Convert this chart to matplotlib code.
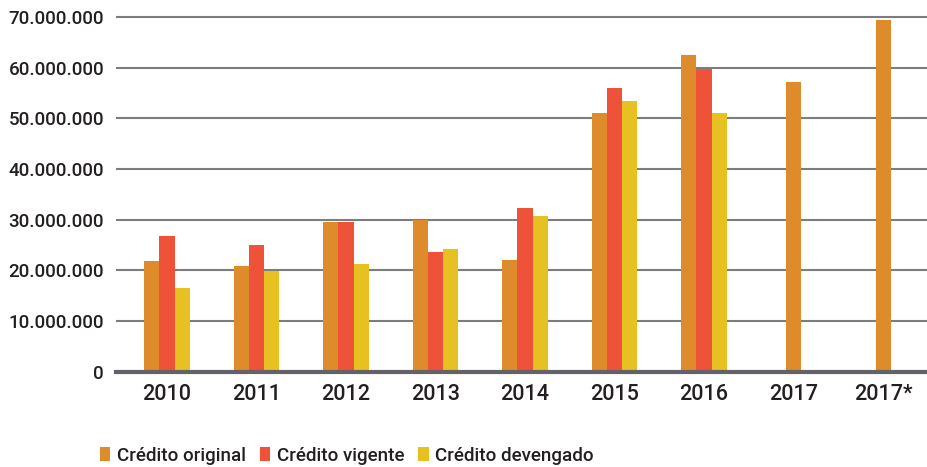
import numpy as np
import matplotlib
matplotlib.use("Agg")
import matplotlib.pyplot as plt
from matplotlib.ticker import FuncFormatter

# data
years = ["2010", "2011", "2012", "2013", "2014", "2015", "2016", "2017", "2017*"]
credito_original = [21.9e6, 20.9e6, 29.6e6, 30.0e6, 22.0e6, 51.0e6, 62.5e6, 57.1e6, 69.4e6]
credito_vigente = [26.8e6, 24.9e6, 29.6e6, 23.7e6, 32.3e6, 55.9e6, 59.7e6, np.nan, np.nan]
credito_devengado = [16.6e6, 19.9e6, 21.3e6, 24.3e6, 30.8e6, 53.4e6, 51.0e6, np.nan, np.nan]
yticks = np.arange(0, 70e6 + 1, 10e6)

c_orig = "#DD8B2B"
c_vig = "#EE533A"
c_dev = "#E7C022"
txt = "#231F20"

plt.rcParams["font.family"] = ["Roboto", "DejaVu Sans"]

fig = plt.figure(figsize=(9.27, 4.67), dpi=100)
ax = fig.add_axes([0.125, 0.204, 0.875, 0.7817])

x = np.arange(len(years))
w = 0.17
vig = np.array(credito_vigente)
dev = np.array(credito_devengado)
single = np.isnan(vig) & np.isnan(dev)
x_orig = np.where(single, x, x - w)

ax.bar(x_orig, credito_original, w, color=c_orig, label="Crédito original", zorder=3)
ax.bar(x, vig, w, color=c_vig, label="Crédito vigente", zorder=3)
ax.bar(x + w, dev, w, color=c_dev, label="Crédito devengado", zorder=3)

ax.set_xlim(-0.57, 8.49)
ax.set_ylim(0, 72e6)
ax.set_yticks(yticks)
ax.yaxis.set_major_formatter(FuncFormatter(lambda v, p: f"{int(v):,}".replace(",", ".")))
ax.set_xticks(x)
ax.set_xticklabels(years)

ax.grid(axis="y", color="#7d7d7d", linewidth=1.5, zorder=0)
for s in ["top", "right", "left"]:
    ax.spines[s].set_visible(False)
ax.spines["bottom"].set_color("#626268")
ax.spines["bottom"].set_linewidth(3)
ax.spines["bottom"].set_zorder(4)

ax.tick_params(axis="y", length=0, pad=8.5, labelsize=13.5, labelcolor=txt)
ax.tick_params(axis="x", length=0, pad=9, labelsize=15.5, labelcolor=txt)
for lab in ax.get_xticklabels() + ax.get_yticklabels():
    lab.set_fontweight("medium")

leg = fig.legend(loc="center left", bbox_to_anchor=(0.108, 0.024), ncol=3,
                 frameon=False, fontsize=13.5, handlelength=0.55, handleheight=0.75,
                 handletextpad=0.35, columnspacing=0.75, borderpad=0, borderaxespad=0)
for t in leg.get_texts():
    t.set_color(txt)
    t.set_fontweight("medium")

plt.savefig("out.png", dpi=100)
